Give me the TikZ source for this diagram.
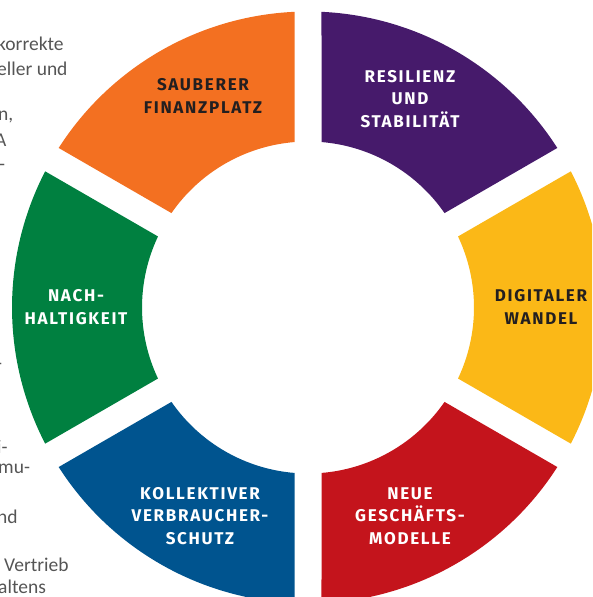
\documentclass[tikz,border=0pt]{standalone}
\usepackage{fontspec}
\setmainfont{Fira Sans}
\newfontfamily\labelfont{Fira Sans}[LetterSpace=10]
\newfontfamily\sidefont{Carlito}
\usetikzlibrary{calc}
\definecolor{cOrange}{HTML}{F37021}
\definecolor{cPurple}{HTML}{461A6B}
\definecolor{cYellow}{HTML}{FBB817}
\definecolor{cRed}{HTML}{C4141C}
\definecolor{cBlue}{HTML}{00548F}
\definecolor{cGreen}{HTML}{008040}
\definecolor{cDark}{HTML}{231F20}
\definecolor{cSide}{HTML}{555555}
\tikzset{
  seglabel/.style={align=center, inner sep=0pt, font=\labelfont\bfseries\fontsize{17}{22.5}\selectfont},
  sidetext/.style={anchor=base west, inner sep=0pt, text=cSide, font=\sidefont\fontsize{19.5}{22}\selectfont},
}
\newcommand\ringseg[2]{%
  \fill[#1] ($(c)+({#2+2.614}:296)$) arc[start angle={#2+2.614}, end angle={#2+60-2.614}, radius=296]
    -- ($(c)+({#2+60-4.665}:166)$) arc[start angle={#2+60-4.665}, end angle={#2+4.665}, radius=166] -- cycle;}
\begin{document}
\begin{tikzpicture}[x=1pt,y=1pt]
\useasboundingbox (0,0) rectangle (592,597);
\clip (0,0) rectangle (592,597);
\coordinate (c) at (308,289.5);
\ringseg{cPurple}{30}
\ringseg{cOrange}{90}
\ringseg{cGreen}{150}
\ringseg{cBlue}{210}
\ringseg{cRed}{270}
\ringseg{cYellow}{-30}
\node[seglabel, text=cDark] (sauber) at (203,501) {SAUBERER\\FINANZPLATZ};
\node[seglabel, text=white] (resil) at (410,498) {RESILIENZ\\UND\\STABILITÄT};
\node[seglabel, text=white] (nach) at (76,290) {NACH-\\HALTIGKEIT};
\node[seglabel, text=cDark] (digi) at (541,290) {DIGITALER\\WANDEL};
\node[seglabel, text=white] (kollekt) at (200,81) {KOLLEKTIVER\\VERBRAUCHER-\\SCHUTZ};
\node[seglabel, text=white] (neue) at (410,81) {NEUE\\GESCHÄFTS-\\MODELLE};
% cropped side text fragments
\node[sidetext] (s1) at (-3,546) {korrekte};
\node[sidetext] (s2) at (-3,521) {eller und};
\node[sidetext] (s3) at (-2,476) {n,};
\node[sidetext] (s4) at (-5,450) {A};
\node[sidetext] (s5) at (-1,426) {-};
\node[sidetext] (s6) at (-4,227) {-};
\node[sidetext] (s7) at (-3,143) {i-};
\node[sidetext] (s8) at (-2,123) {mu-};
\node[sidetext] (s9) at (-3,73) {nd};
\node[sidetext] (s10) at (4,25) {Vertrieb};
\node[sidetext] (s11) at (-2,3) {altens};
\end{tikzpicture}
\end{document}
